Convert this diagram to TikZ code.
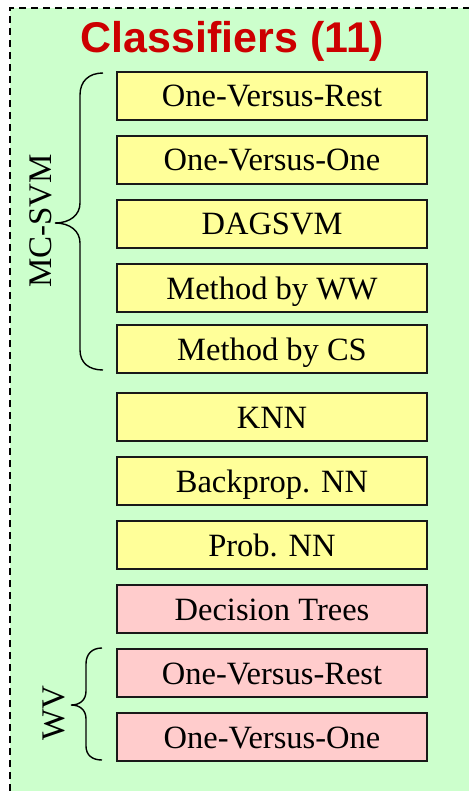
\documentclass[tikz,border=0pt]{standalone}
\usepackage{fontspec}
\setmainfont{Liberation Serif}
\newfontfamily\headfont{Liberation Sans}
\definecolor{panelgreen}{HTML}{CCFFCC}
\definecolor{boxyellow}{HTML}{FFFF99}
\definecolor{boxpink}{HTML}{FFCCCC}
\definecolor{headred}{HTML}{CC0000}
\tikzset{
  itembox/.style={draw=black!90, line width=1.6pt, minimum width=310pt,
    minimum height=48pt, inner sep=0pt, anchor=center,
    text height=22pt, text depth=0pt,
    font=\fontsize{32.5}{36}\selectfont},
  svmbox/.style={itembox, fill=boxyellow},
  treebox/.style={itembox, fill=boxpink},
  bracket/.style={line width=1.4pt, black},
  grouplabel/.style={rotate=90, inner sep=0pt, font=\fontsize{33}{36}\selectfont},
}
\begin{document}
\begin{tikzpicture}[x=1pt, y=-1pt]
  \useasboundingbox (0,0) rectangle (469,791);
  % panel background with dashed frame
  \fill[panelgreen] (10,8) rectangle (469,791);
  \draw[line width=1.7pt, dash pattern=on 7pt off 5pt] (10,791) -- (10,8) -- (469,8);

  % heading
  \node[text=headred, font=\headfont\bfseries\fontsize{43}{48}\selectfont, anchor=base]
    (title) at (232.5,53) {Classifiers (11)};

  % classifier boxes
  \node[svmbox]  (b1)  at (272,96)  {One-Versus-Rest};
  \node[svmbox]  (b2)  at (272,160) {One-Versus-One};
  \node[svmbox]  (b3)  at (272,224) {DAGSVM};
  \node[svmbox]  (b4)  at (272,288) {Method by WW};
  \node[svmbox]  (b5)  at (272,349) {Method by CS};
  \node[svmbox]  (b6)  at (272,417) {KNN};
  \node[svmbox]  (b7)  at (272,481) {Backprop. NN};
  \node[svmbox]  (b8)  at (272,545) {Prob. NN};
  \node[treebox] (b9)  at (272,609) {Decision Trees};
  \node[treebox] (b10) at (272,673) {One-Versus-Rest};
  \node[treebox] (b11) at (272,737) {One-Versus-One};

  % brace grouping the multi-class SVM variants
  \draw[bracket] (103,73) .. controls (89,73) and (80,81) .. (80,95)
    -- (80,203) .. controls (80,215) and (70,223) .. (55,223)
    .. controls (70,223) and (80,231) .. (80,243)
    -- (80,350) .. controls (80,363) and (89,370) .. (103,370);
  \node[grouplabel] (svm) at (41,221) {MC-SVM};

  % brace grouping the WV variants
  \draw[bracket] (102,648) .. controls (92,648) and (86,654) .. (86,664)
    -- (86,691) .. controls (86,700) and (80,705) .. (71,705)
    .. controls (80,705) and (86,710) .. (86,719)
    -- (86,746) .. controls (86,755) and (92,760) .. (102,760);
  \node[grouplabel] (wv) at (54,713) {WV};
\end{tikzpicture}
\end{document}
